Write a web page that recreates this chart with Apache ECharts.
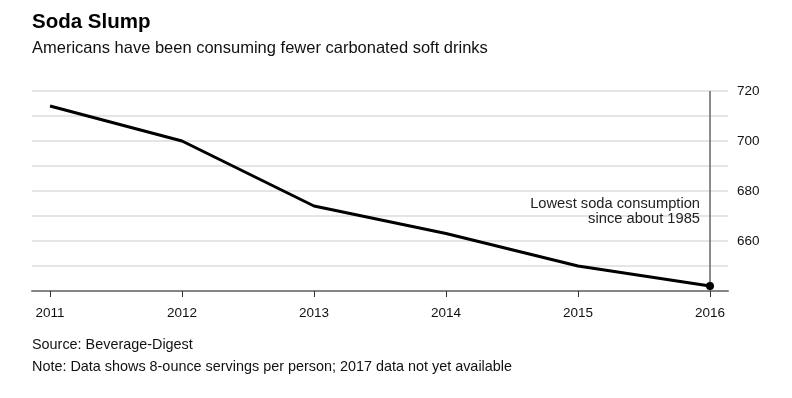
<!DOCTYPE html>
<html><head><meta charset="utf-8">
<script src="https://cdn.jsdelivr.net/npm/echarts@6/dist/echarts.min.js"></script>
<style>html,body{margin:0;padding:0;background:#fff}#c{width:792px;height:398px}</style>
</head><body><div id="c"></div>
<script>
const years = [2011, 2012, 2013, 2014, 2015, 2016];
const servings = [714, 700, 674, 663, 650, 642];
const yLabels = [660, 680, 700, 720];
const titleText = 'Soda Slump';
const subtitleText = 'Americans have been consuming fewer carbonated soft drinks';
const sourceText = 'Source: Beverage-Digest';
const noteText = 'Note: Data shows 8-ounce servings per person; 2017 data not yet available';
const annotationText = 'Lowest soda consumption\nsince about 1985';

const FONT = '"Liberation Sans", Arial, sans-serif';
const chart = echarts.init(document.getElementById('c'), null, {renderer: 'canvas'});
const pad = 0.1364;
chart.setOption({
  animation: false,
  backgroundColor: '#fff',
  grid: {left: 32, right: 64, top: 91, bottom: 107, containLabel: false},
  xAxis: {
    type: 'value', min: years[0] - pad, max: years[years.length - 1] + pad,
    axisLine: {show: true, onZero: false, lineStyle: {color: '#858585', width: 2}},
    axisTick: {show: true, customValues: years, length: 6, lineStyle: {color: '#333', width: 1}},
    axisLabel: {customValues: years, formatter: v => String(v), color: '#111', fontFamily: FONT, fontSize: 13.5, margin: 15},
    splitLine: {show: false}
  },
  yAxis: {
    type: 'value', position: 'right', min: 640, max: 720, interval: 10,
    axisLine: {show: false}, axisTick: {show: false},
    axisLabel: {formatter: v => yLabels.includes(v) ? String(v) : '', color: '#111', fontFamily: FONT, fontSize: 13.5, margin: 9},
    splitLine: {lineStyle: {color: '#dcdcdc', width: 1.5}}
  },
  series: [{
    type: 'line',
    data: years.map((y, i) => [y, servings[i]]),
    symbol: 'none',
    lineStyle: {color: '#000', width: 3},
    markLine: {
      silent: true, symbol: 'none', label: {show: false},
      lineStyle: {color: '#666', width: 1.5, type: 'solid'},
      data: [{xAxis: years[years.length - 1]}]
    },
    markPoint: {
      silent: true,
      data: [
        {coord: [years[5], servings[5]], symbol: 'circle', symbolSize: 8, itemStyle: {color: '#000'}, label: {show: false}},
        {coord: [years[5], 672], symbol: 'circle', symbolSize: 0,
         label: {show: true, position: 'left', distance: 10, formatter: annotationText, align: 'right',
                 color: '#222', fontFamily: FONT, fontSize: 14.7, lineHeight: 15}}
      ]
    }
  }],
  graphic: [
    {type: 'text', left: 32, top: 12, style: {text: titleText, font: 'bold 20.5px ' + FONT, fill: '#000'}},
    {type: 'text', left: 32, top: 40, style: {text: subtitleText, font: '16.5px ' + FONT, fill: '#111'}},
    {type: 'text', left: 32, top: 338, style: {text: sourceText, font: '14.4px ' + FONT, fill: '#111'}},
    {type: 'text', left: 32, top: 360, style: {text: noteText, font: '14.4px ' + FONT, fill: '#111'}}
  ]
});
</script></body></html>
